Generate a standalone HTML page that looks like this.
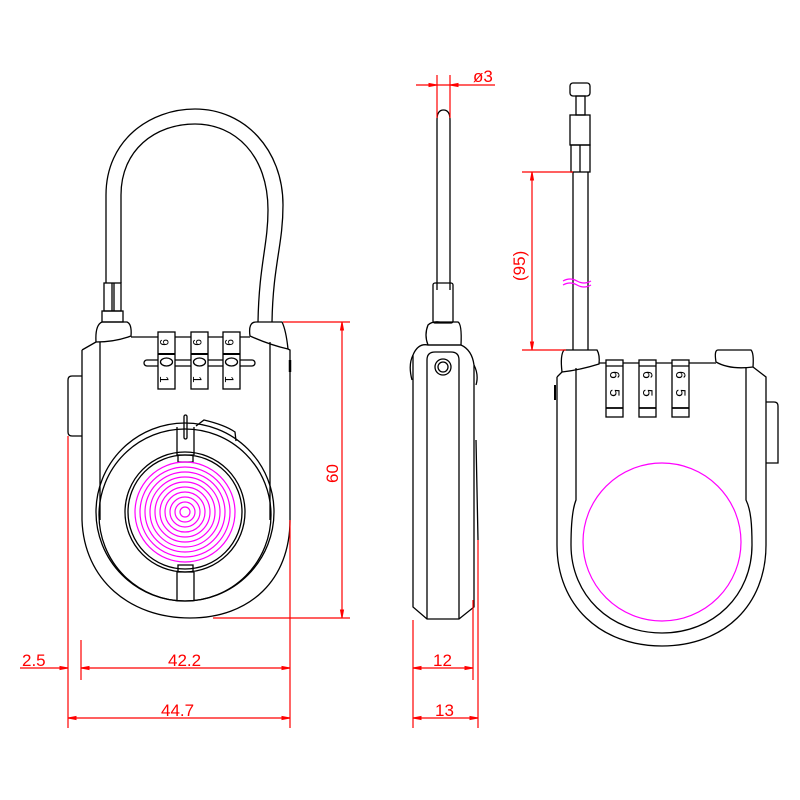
<!DOCTYPE html>
<html><head><style>html,body{margin:0;padding:0;background:#fff}svg{display:block}text{font-family:"Liberation Sans",sans-serif;fill:#f00;stroke:none;font-size:17px}</style></head><body>
<svg width="800" height="800" viewBox="0 0 800 800" xmlns="http://www.w3.org/2000/svg">
<g fill="none" stroke="#000" stroke-width="1.3">
<path d="M106 283 V195 C106 140 150 109 195 109 C245 109 283 150 283 205 C283 245 273 265 272 322"/>
<path d="M121 283 V195 C121 150 155 124 195 124 C235 124 268 155 268 210 C268 245 259 265 258 322"/>
<rect x="104" y="283" width="17" height="28"/><line x1="112" y1="283" x2="112" y2="311"/><line x1="114" y1="283" x2="114" y2="311"/>
<rect x="102" y="311" width="21" height="11"/>
<path d="M96 342 Q95 325 102 322 H127 Q132 324 131 336 Q115 342 96 342"/>
<path d="M250 336 Q248 322 256 322 H282 Q286 330 288 349 Q270 345 250 336"/>
<path d="M131 337 H250"/>
<path d="M82 350 L96 342 M82 350 V520 C84 580 130 618 190 618 C250 618 290 580 290 520 V350 L288 349"/>
<path d="M100 342 V520 M270 342 V520"/>
<path d="M290 360 V372" stroke-width="2.5"/>
<path d="M82 376 H72 Q68 376 68 380 V432 Q68 436 72 436 H82"/>
<rect x="144" y="360" width="111" height="6" rx="3"/>
<g fill="#fff"><rect x="158" y="332" width="17" height="57"/><rect x="191" y="332" width="17" height="57"/><rect x="223" y="332" width="17" height="57"/></g>
<g stroke-width="2"><line x1="158" y1="354" x2="175" y2="354"/><line x1="191" y1="354" x2="208" y2="354"/><line x1="223" y1="354" x2="240" y2="354"/></g>
<g><ellipse cx="166.5" cy="362" rx="6" ry="4"/><ellipse cx="199.5" cy="362" rx="6" ry="4"/><ellipse cx="231.5" cy="362" rx="6" ry="4"/></g>
<text transform="translate(160,339) rotate(90)" style="fill:#000;font-size:12px">9</text>
<text transform="translate(193,339) rotate(90)" style="fill:#000;font-size:12px">9</text>
<text transform="translate(225,339) rotate(90)" style="fill:#000;font-size:12px">9</text>
<text transform="translate(160,376) rotate(90)" style="fill:#000;font-size:12px">1</text>
<text transform="translate(193,376) rotate(90)" style="fill:#000;font-size:12px">1</text>
<text transform="translate(225,376) rotate(90)" style="fill:#000;font-size:12px">1</text>
<circle cx="185" cy="512" r="89"/>
<circle cx="185" cy="515" r="86"/>
<circle cx="185" cy="512" r="60"/>
<circle cx="185" cy="512" r="57"/>
<rect x="184" y="415" width="3" height="24" rx="1.5"/>
<path d="M177 455 V427 M194 455 V427 M178 455 H193 V462 H178 Z"/>
<path d="M177 572 V600 M194 572 V600 M178 572 H193 V565 H178 Z"/>
<path d="M196 426 L204 420 Q225 425 235 432 L236 441"/>
<path d="M437 290 V120 Q437 110 443.5 110 Q450 110 450 120 V290"/>
<rect x="433" y="283" width="20" height="40" rx="2"/>
<path d="M428 345 Q424 335 428 325 Q432 321 440 322 H458 Q462 324 461 345 Z"/>
<path d="M413 355 Q418 343 428 345 L461 345 Q472 350 474 365 M413 355 V607 L427 619 H459 L474 607 V365"/>
<path d="M427 619 V360 Q427 352 435 352 H451 Q459 352 459 360 V619"/>
<circle cx="443" cy="367" r="8"/><circle cx="443" cy="367" r="5"/>
<path d="M413 355 Q408 365 412 380 M474 365 Q479 375 476 385 M476 440 L478 540"/>
<rect x="570" y="83" width="20" height="13" rx="3"/>
<rect x="576" y="96" width="9" height="19"/>
<rect x="570" y="115" width="20" height="30"/>
<rect x="571" y="145" width="19" height="27"/><line x1="580" y1="145" x2="580" y2="172"/>
<line x1="573" y1="172" x2="573" y2="350"/><line x1="588" y1="172" x2="588" y2="350"/>
<path d="M562 372 Q560 355 564 350 H597 Q600 355 599 364 Q580 370 562 372"/>
<path d="M716 362 Q714 350 718 350 H751 Q754 353 753 367 Q730 370 716 362"/>
<path d="M599 363 H716"/>
<path d="M557 377 L562 372 M557 377 V545 C557 605 600 646 662 646 C724 646 766 605 766 545 V377 L753 367"/>
<path d="M576 368 V500 C572 510 571 525 571 545 C571 595 610 633 662 633 C714 633 752 595 752 545 C752 525 751 510 746 500 V368"/>
<path d="M766 402 H774 Q778 402 778 406 V463 H766"/>
<path d="M555 385 V400" stroke-width="2"/>
<g fill="#fff"><rect x="606" y="360" width="17" height="57"/><rect x="639" y="360" width="17" height="57"/><rect x="672" y="360" width="17" height="57"/></g>
<g stroke-width="1.8"><line x1="606" y1="408" x2="623" y2="408"/><line x1="639" y1="408" x2="656" y2="408"/><line x1="672" y1="408" x2="689" y2="408"/></g>
<line x1="606" y1="366" x2="623" y2="366"/><line x1="639" y1="366" x2="656" y2="366"/><line x1="672" y1="366" x2="689" y2="366"/>
<text transform="translate(610,371) rotate(90)" style="fill:#000;font-size:14px">6</text>
<text transform="translate(643,371) rotate(90)" style="fill:#000;font-size:14px">6</text>
<text transform="translate(676,371) rotate(90)" style="fill:#000;font-size:14px">6</text>
<text transform="translate(610,389) rotate(90)" style="fill:#000;font-size:14px">5</text>
<text transform="translate(643,389) rotate(90)" style="fill:#000;font-size:14px">5</text>
<text transform="translate(676,389) rotate(90)" style="fill:#000;font-size:14px">5</text>
</g>
<g fill="none" stroke="#f0f" stroke-width="1.2">
<circle cx="185" cy="512" r="5"/><circle cx="185" cy="512" r="10"/><circle cx="185" cy="512" r="15"/><circle cx="185" cy="512" r="20"/><circle cx="185" cy="512" r="25"/><circle cx="185" cy="512" r="30"/><circle cx="185" cy="512" r="35"/><circle cx="185" cy="512" r="40"/><circle cx="185" cy="512" r="45"/><circle cx="185" cy="512" r="50"/>
<circle cx="662" cy="542" r="79"/>
<path d="M563 281 Q570 277 577 281 T591 281 M563 285 Q570 281 577 285 T591 285"/>
</g>
<g fill="none" stroke="#f00" stroke-width="1.2">
<path d="M283 322 H350 M213 618 H350 M342 322 V618"/>
<path d="M68 436 V728 M81 640 V680 M290 520 V728"/>
<path d="M20 668 H68 M81 668 H290 M68 718 H290"/>
<path d="M413 620 V728 M473 600 V680 M478 540 V728 M413 668 H473 M413 718 H478"/>
<path d="M437 75 V118 M450 75 V118 M416 85 H495"/>
<path d="M522 172 H573 M522 350 H566 M532 172 V350"/>
</g>
<g fill="#f00" stroke="#f00" stroke-width="1">
<path d="M68 668 l-8 -1.5 v3z M81 668 l8 -1.5 v3z M290 668 l-8 -1.5 v3z M68 718 l8 -1.5 v3z M290 718 l-8 -1.5 v3z"/>
<path d="M413 668 l8 -1.5 v3z M473 668 l-8 -1.5 v3z M413 718 l8 -1.5 v3z M478 718 l-8 -1.5 v3z"/>
<path d="M437 85 l-8 -1.5 v3z M450 85 l8 -1.5 v3z"/>
<path d="M342 322 l-1.5 8 h3z M342 618 l-1.5 -8 h3z M532 172 l-1.5 8 h3z M532 350 l-1.5 -8 h3z"/>
</g>
<text x="22" y="666">2.5</text>
<text x="168" y="666">42.2</text>
<text x="161" y="716">44.7</text>
<text x="433" y="666">12</text>
<text x="435" y="716">13</text>
<text x="473" y="82">ø3</text>
<text transform="translate(338,483) rotate(-90)">60</text>
<text transform="translate(525,281) rotate(-90)">(95)</text>
</svg>
</body></html>
